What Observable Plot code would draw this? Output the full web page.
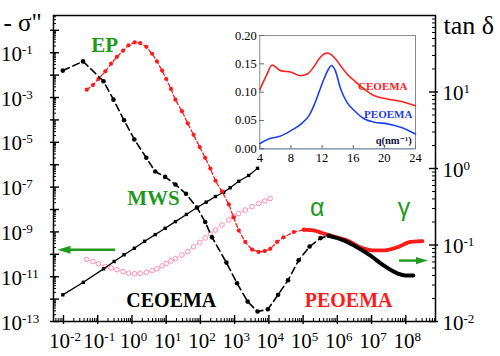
<!DOCTYPE html>
<html><head><meta charset="utf-8">
<script src="https://cdn.jsdelivr.net/npm/d3@7"></script>
<script src="https://cdn.jsdelivr.net/npm/@observablehq/plot@0.6"></script>
<style>
body{margin:0;background:#fff}
#chart{position:relative;width:500px;height:356px;background:#fff}
#chart svg{position:absolute;background:transparent}
</style>
</head><body><div id="chart"></div>
<script>
// ---------- data (log10 values) ----------
// CEOEMA  -sigma'' (left axis), filled squares
const ceoemaSigmaLogF = [-2.02,-1.42,-0.83,-0.52,-0.23,0.07,0.37,0.68,0.97,1.27,1.59,1.90,2.17,2.44,2.68,2.87,3.12,3.41,3.67];
const ceoemaSigmaLog  = [-11.81,-11.25,-10.65,-10.32,-10.02,-9.73,-9.42,-9.12,-8.84,-8.54,-8.22,-7.91,-7.67,-7.42,-7.23,-7.03,-6.74,-6.48,-6.16];
// PEOEMA  -sigma'' (left axis), open circles
const peoemaSigmaLogF = [-1.32,-1.14,-0.98,-0.78,-0.61,-0.44,-0.26,-0.10,0.08,0.24,0.42,0.59,0.73,0.88,1.00,1.14,1.27,1.46,1.63,1.80,1.98,2.14,2.29,2.44,2.63,2.83,2.97,3.12,3.31,3.51,3.70,3.88,4.04];
const peoemaSigmaLog  = [-10.23,-10.32,-10.42,-10.55,-10.61,-10.69,-10.77,-10.84,-10.87,-10.85,-10.80,-10.73,-10.65,-10.52,-10.41,-10.30,-10.19,-10.03,-9.88,-9.67,-9.47,-9.27,-9.09,-8.92,-8.69,-8.47,-8.31,-8.18,-8.02,-7.87,-7.73,-7.62,-7.51];
// CEOEMA tan delta (right axis), dashed with dots, then dense
const ceoemaTanLogF = [-2.02,-1.43,-0.83,-0.54,-0.23,0.07,0.42,0.68,0.97,1.27,1.58,1.90,2.14,2.34,2.76,3.07,3.38,3.67,3.97,4.27,4.56,4.87,5.19,5.51,5.75];
const ceoemaTanLog  = [1.28,1.40,1.14,0.90,0.63,0.38,0.14,-0.04,-0.11,-0.21,-0.33,-0.51,-0.70,-0.90,-1.23,-1.50,-1.74,-1.87,-1.84,-1.65,-1.46,-1.20,-1.02,-0.91,-0.88];
const ceoemaTanDenseLogF = [5.75,6.19,6.58,6.97,7.36,7.75,7.99,8.22];
const ceoemaTanDenseLog  = [-0.88,-0.94,-1.03,-1.14,-1.27,-1.37,-1.40,-1.40];
// PEOEMA tan delta (right axis)
const peoemaTanLogF = [-1.32,-1.14,-0.98,-0.78,-0.61,-0.44,-0.26,-0.10,0.08,0.24,0.42,0.59,0.73,0.88,1.00,1.14,1.27,1.46,1.63,1.80,1.98,2.14,2.29,2.44,2.63,2.83,2.97,3.12,3.31,3.51,3.70,3.88,4.04,4.24,4.43,4.73,5.02];
const peoemaTanLog  = [1.03,1.09,1.17,1.27,1.37,1.46,1.54,1.61,1.65,1.64,1.59,1.50,1.40,1.28,1.17,1.04,0.90,0.75,0.59,0.44,0.28,0.14,0.00,-0.16,-0.30,-0.47,-0.64,-0.81,-0.96,-1.06,-1.09,-1.08,-1.05,-0.96,-0.90,-0.83,-0.80];
const peoemaTanDenseLogF = [5.02,5.31,5.60,5.90,6.29,6.68,7.06,7.36,7.75,8.14,8.49];
const peoemaTanDenseLog  = [-0.80,-0.81,-0.85,-0.89,-0.94,-1.03,-1.07,-1.07,-1.03,-0.96,-0.95];

// inset (SAXS)
const insetCeoemaQ = [4,4.84,5.58,6.66,8.03,9.2,10.1,10.9,11.8,12.65,13.5,14.36,15.2,16.08,17.36,18.65,20.36,22.07,24];
const insetCeoemaI = [0.104,0.129,0.148,0.138,0.135,0.129,0.132,0.144,0.162,0.169,0.162,0.147,0.132,0.121,0.106,0.094,0.088,0.084,0.076];
const insetPeoemaQ = [4,5.3,6.6,8.0,9.4,10.3,11.0,11.6,12.2,12.8,13.2,13.7,14.4,15.2,16.1,17.4,18.7,20.4,22.1,24];
const insetPeoemaI = [0.009,0.018,0.022,0.032,0.045,0.058,0.078,0.100,0.122,0.140,0.147,0.138,0.105,0.082,0.068,0.053,0.047,0.044,0.038,0.026];

// tick labels (exponents)
const xTickExps = [-2,-1,0,1,2,3,4,5,6,7,8];
const leftTickExps = [-13,-11,-9,-7,-5,-3,-1];
const leftMajorExps = [-13,-12,-11,-10,-9,-8,-7,-6,-5,-4,-3,-2,-1,0];
const rightTickExps = [-2,-1,0,1];
const insetXTicks = [4,8,12,16,20,24];
const insetYTicks = [0,0.05,0.10,0.15,0.20];

// annotations
const arrowFromLogF = [-0.49, 7.80];
const arrowToLogF   = [-1.985, 8.47];
const arrowAtLogS   = [-9.80, -10.28];
const peakLabels = ["EP","MWS"];
const peakLabelLogF = [-0.80, 0.63];
const peakLabelLogS = [-0.65, -7.48];
const greekLabels = ["α","γ"];
const greekLabelLogF = [5.41, 7.95];
const greekLabelLogS = [-7.92, -7.92];
const sampleLabels = ["CEOEMA","PEOEMA"];
const sampleLabelLogF = [1.15, 6.33];
const sampleLabelLogS = [-12.08, -12.08];
const insetLabels = ["CEOEMA","PEOEMA","q(nm⁻¹)"];
const insetLabelQ = [19.8, 20.5, 21.2];
const insetLabelI = [0.110, 0.061, 0.0147];

// ---------- helpers ----------
const serif = "Liberation Serif, DejaVu Serif, serif";
const sans = "Liberation Sans, DejaVu Sans, sans-serif";
const green = "#1f9a1f";
const W = 500, H = 356, mT = 15, mB = 35, mL = 53, mR = 65;
const FW = W - mL - mR, FH = H - mT - mB;
const xDomain = [10 ** -2.292, 10 ** 8.868];
const toRows = (xs, ys) => xs.map((x, i) => ({x: 10 ** x, y: 10 ** ys[i]}));
const linRows = (xs, ys) => xs.map((x, i) => ({x, y: ys[i]}));
function logMinor(lo, hi) {
  const out = [];
  for (let e = Math.floor(lo); e <= Math.ceil(hi); e++)
    for (let k = 2; k <= 9; k++) { const v = k * 10 ** e; if (v > 10 ** lo && v < 10 ** hi) out.push(v); }
  return out;
}
function supify(svg) {
  d3.select(svg).selectAll("text").each(function () {
    const m = /^10\^(-?\d+)$/.exec(this.textContent);
    if (!m) return;
    const s = d3.select(this);
    s.text("10");
    s.append("tspan").attr("dy", -7).attr("font-size", 13).text(m[1]);
  });
}
const triSym = (dir) => ({
  draw(ctx, size) {
    const r = Math.sqrt(size / Math.PI);
    ctx.moveTo(dir * 1.3 * r, 0);
    ctx.lineTo(-dir * 1.3 * r, -0.8 * r);
    ctx.lineTo(-dir * 1.3 * r, 0.8 * r);
    ctx.closePath();
  }
});

const ceoemaSigma = toRows(ceoemaSigmaLogF, ceoemaSigmaLog);
const peoemaSigma = toRows(peoemaSigmaLogF, peoemaSigmaLog);
const ceoemaTan = toRows(ceoemaTanLogF, ceoemaTanLog);
const ceoemaTanDense = toRows(ceoemaTanDenseLogF, ceoemaTanDenseLog);
const peoemaTan = toRows(peoemaTanLogF, peoemaTanLog);
const peoemaTanDense = toRows(peoemaTanDenseLogF, peoemaTanDenseLog);
const arrows = arrowFromLogF.map((f, i) => ({x1: 10 ** f, x2: 10 ** arrowToLogF[i], y: 10 ** arrowAtLogS[i], dir: i === 0 ? -1 : 1}));
const idx = (a) => a.map((_, i) => i);

// ---------- plot 1 : -sigma'' (left axis) ----------
const p1 = Plot.plot({
  width: W, height: H, marginTop: mT, marginBottom: mB, marginLeft: mL, marginRight: mR,
  x: {type: "log", domain: xDomain, axis: null},
  y: {type: "log", domain: [1e-13, 10 ** 0.661], axis: null},
  style: {background: "transparent"},
  marks: [
    Plot.tickX(logMinor(-2.292, 8.868), {x: d => d, insetTop: FH - 3, stroke: "black"}),
    Plot.tickX(xTickExps, {x: e => 10 ** e, insetTop: FH - 6, insetBottom: -3, stroke: "black", strokeWidth: 1.4}),
    Plot.tickY(logMinor(-13, 0.661), {y: d => d, insetRight: FW - 3, stroke: "black"}),
    Plot.tickY(leftMajorExps, {y: e => 10 ** e, insetRight: FW - 6, insetLeft: -3, stroke: "black", strokeWidth: 1.4}),
    Plot.frame({stroke: "black", strokeWidth: 1.5}),
    Plot.text(xTickExps, {x: e => 10 ** e, text: e => `10^${e}`, frameAnchor: "bottom", textAnchor: "middle", dx: 1.5, dy: 26.3, fontSize: 21}),
    Plot.text(leftTickExps, {y: e => 10 ** e, text: e => `10^${e}`, frameAnchor: "left", textAnchor: "start", dx: -52.5, dy: 1.3, fontSize: 21}),
    Plot.text(["- σ\""], {text: d => d, frameAnchor: "top-left", textAnchor: "start", dx: -50, dy: -2.5, fontSize: 25, letterSpacing: "2px"}),
    // sigma'' curves
    Plot.line(peoemaSigma, {x: "x", y: "y", stroke: "#ffa8c8", strokeWidth: 0.8}),
    Plot.dot(peoemaSigma, {x: "x", y: "y", r: 2.3, stroke: "#ff8db5", fill: "white", strokeWidth: 1}),
    Plot.line(ceoemaSigma, {x: "x", y: "y", stroke: "black", strokeWidth: 1.3}),
    Plot.dot(ceoemaSigma, {x: "x", y: "y", symbol: "square", r: 1.9, fill: "black"}),
    // arrows
    Plot.link(arrows, {x1: "x1", x2: "x2", y1: "y", y2: "y", stroke: green, strokeWidth: 2.4}),
    Plot.dot(arrows.filter(d => d.dir < 0), {x: "x2", y: "y", r: 5, symbol: triSym(-1), fill: green, stroke: "none"}),
    Plot.dot(arrows.filter(d => d.dir > 0), {x: "x2", y: "y", r: 4.5, symbol: triSym(1), fill: green, stroke: "none"}),
    // labels
    Plot.text(idx(peakLabels), {x: i => 10 ** peakLabelLogF[i], y: i => 10 ** peakLabelLogS[i], text: i => peakLabels[i], fill: green, fontWeight: "bold", fontSize: 21}),
    Plot.text(idx(greekLabels), {x: i => 10 ** greekLabelLogF[i], y: i => 10 ** greekLabelLogS[i], text: i => greekLabels[i], fill: green, fontSize: 25}),
    Plot.text([0], {x: i => 10 ** sampleLabelLogF[i], y: i => 10 ** sampleLabelLogS[i], text: i => sampleLabels[i], fill: "black", fontWeight: "bold", fontSize: 20}),
    Plot.text([1], {x: i => 10 ** sampleLabelLogF[i], y: i => 10 ** sampleLabelLogS[i], text: i => sampleLabels[i], fill: "#ff1a1a", fontWeight: "bold", fontSize: 20})
  ]
});
supify(p1);
d3.select(p1).selectAll("text").style("font-family", serif);
d3.select(p1).selectAll("text").filter(function () { return this.textContent === "α" || this.textContent === "γ"; }).style("font-family", sans);

// ---------- plot 2 : tan delta (right axis) ----------
const p2 = Plot.plot({
  width: W, height: H, marginTop: mT, marginBottom: mB, marginLeft: mL, marginRight: mR,
  x: {type: "log", domain: xDomain, axis: null},
  y: {type: "log", domain: [1e-2, 1e2], axis: null},
  style: {background: "transparent"},
  marks: [
    Plot.tickY(logMinor(-2, 2), {y: d => d, insetLeft: FW - 3, stroke: "black"}),
    Plot.tickY(rightTickExps, {y: e => 10 ** e, insetLeft: FW - 6, insetRight: -3, stroke: "black", strokeWidth: 1.4}),
    Plot.text(rightTickExps, {y: e => 10 ** e, text: e => `10^${e}`, frameAnchor: "right", textAnchor: "start", dx: 7, dy: 1.5, fontSize: 21}),
    Plot.text(["tan δ"], {text: d => d, frameAnchor: "top-right", textAnchor: "start", dx: 8, dy: 0.5, fontSize: 26}),
    // PEOEMA
    Plot.line(peoemaTan, {x: "x", y: "y", stroke: "#ff1a1a", strokeWidth: 1.3, strokeDasharray: "4,2.5"}),
    Plot.dot(peoemaTan, {x: "x", y: "y", r: 2.1, fill: "#ff1a1a"}),
    Plot.line(peoemaTanDense, {x: "x", y: "y", stroke: "#ff1a1a", strokeWidth: 3.8, strokeDasharray: "2.6,1", curve: "monotone-x"}),
    // CEOEMA
    Plot.line(ceoemaTan, {x: "x", y: "y", stroke: "black", strokeWidth: 1.6, strokeDasharray: "7,4"}),
    Plot.dot(ceoemaTan, {x: "x", y: "y", r: 2.3, fill: "black"}),
    Plot.line(ceoemaTanDense, {x: "x", y: "y", stroke: "black", strokeWidth: 4, curve: "monotone-x"})
  ]
});
supify(p2);
d3.select(p2).selectAll("text").style("font-family", serif);

// ---------- plot 3 : inset ----------
const iL = 222, iT = 25, iW = 208, iH = 146;
const p3 = Plot.plot({
  width: iW, height: iH, marginTop: 10, marginBottom: iH - 123.3, marginLeft: 37.3, marginRight: iW - 193,
  x: {domain: [4, 24], ticks: insetXTicks, tickSize: 0, tickPadding: 4, label: null},
  y: {domain: [0, 0.2], ticks: insetYTicks, tickFormat: ".2f", tickSize: 0, tickPadding: 3, label: null},
  style: {fontSize: "12.5px", background: "transparent", color: "black"},
  marks: [
    Plot.ruleY([0], {stroke: "#9fb3ff", strokeWidth: 1.5}),
    Plot.frame({stroke: "#8a8a8a"}),
    Plot.tickY(insetYTicks, {y: d => d, insetRight: 151, stroke: "#666"}),
    Plot.tickX(insetXTicks, {x: d => d, insetTop: 110, stroke: "#666"}),
    Plot.line(linRows(insetCeoemaQ, insetCeoemaI), {x: "x", y: "y", stroke: "#ff2020", strokeWidth: 1.6, curve: "monotone-x"}),
    Plot.line(linRows(insetPeoemaQ, insetPeoemaI), {x: "x", y: "y", stroke: "#2040e8", strokeWidth: 1.6, curve: "monotone-x"}),
    Plot.text([0], {x: i => insetLabelQ[i], y: i => insetLabelI[i], text: i => insetLabels[i], fill: "#ff2020", fontWeight: "bold", fontSize: 11}),
    Plot.text([1], {x: i => insetLabelQ[i], y: i => insetLabelI[i], text: i => insetLabels[i], fill: "#2040e8", fontWeight: "bold", fontSize: 11}),
    Plot.text([2], {x: i => insetLabelQ[i], y: i => insetLabelI[i], text: i => insetLabels[i], fill: "#101040", fontWeight: "bold", fontSize: 10.5})
  ]
});
d3.select(p3).selectAll("text").style("font-family", serif);

const chart = document.getElementById("chart");
for (const [svg, l, t] of [[p1, 0, 0], [p2, 0, 0], [p3, iL, iT]]) {
  svg.style.left = l + "px";
  svg.style.top = t + "px";
  svg.style.background = "transparent";
  svg.style.maxWidth = "none";
  chart.appendChild(svg);
}
</script></body></html>
